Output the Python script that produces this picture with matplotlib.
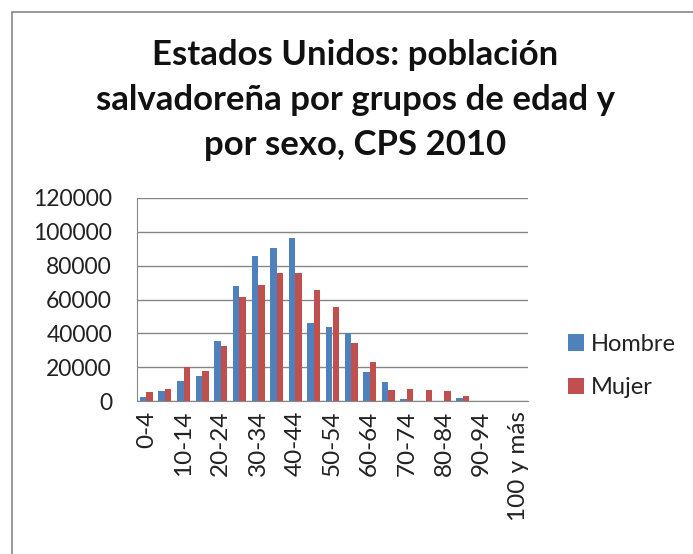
import numpy as np
import matplotlib.pyplot as plt
from matplotlib.patches import Rectangle

grupos = ['0-4', '5-9', '10-14', '15-19', '20-24', '25-29', '30-34', '35-39',
          '40-44', '45-49', '50-54', '55-59', '60-64', '65-69', '70-74',
          '75-79', '80-84', '85-89', '90-94', '95-99', '100 y más']
hombre = [2500, 5900, 11800, 14800, 35300, 67900, 86000, 90700, 96100, 46000,
          43600, 40400, 17200, 11200, 1200, 0, 0, 2000, 0, 0, 0]
mujer = [5100, 7300, 20000, 17900, 32400, 61400, 68700, 75600, 75600, 65700,
         55800, 34500, 23300, 6500, 7300, 6500, 5900, 2800, 0, 0, 0]

plt.rcParams['font.family'] = ['Lato', 'DejaVu Sans']

fig = plt.figure(figsize=(6.93, 5.54), dpi=100)
ax = fig.add_axes([137/693, 1 - 401/554, (528-137)/693, (401-198)/554])

x = np.arange(len(grupos))
w = 0.35
ax.bar(x - w/2, hombre, w, color='#4F81BD', label='Hombre', zorder=3)
ax.bar(x + w/2, mujer, w, color='#C0504D', label='Mujer', zorder=3)

ax.set_xlim(-0.5, len(grupos) - 0.5)
ax.set_ylim(0, 120000)
ax.set_yticks(range(0, 120001, 20000))
ax.tick_params(axis='y', length=0, labelsize=16.5, pad=18, labelcolor='#222222')
ax.yaxis.grid(True, color='#868686', linewidth=1, zorder=0)
ax.set_xticks(x[::2])
ax.set_xticklabels(grupos[::2], rotation=90, fontsize=17.5, color='#222222')
ax.tick_params(axis='x', length=0, pad=7)
for s in ['top', 'right']:
    ax.spines[s].set_visible(False)
ax.spines['left'].set_color('#868686')
ax.spines['bottom'].set_color('#868686')

fig.text(355/693, 1 - 100/554, 'Estados Unidos: población\nsalvadoreña por grupos de edad y\npor sexo, CPS 2010',
         ha='center', va='center', fontsize=25, fontweight='bold', linespacing=1.5,
         color='#111111', transform=fig.transFigure)

fig.legend(loc='center left', bbox_to_anchor=(568/693, 1 - 366/554), frameon=False,
           fontsize=17, handlelength=0.68, handleheight=0.68, handletextpad=0.28,
           labelspacing=0.95, borderpad=0, borderaxespad=0, labelcolor='#222222')

fig.patches.append(Rectangle((12/693, -0.1), 1.0, 1 - 12/554 + 0.1, transform=fig.transFigure,
                             fill=False, edgecolor='#868686', linewidth=1.2))

fig.savefig('out.png', dpi=100)
